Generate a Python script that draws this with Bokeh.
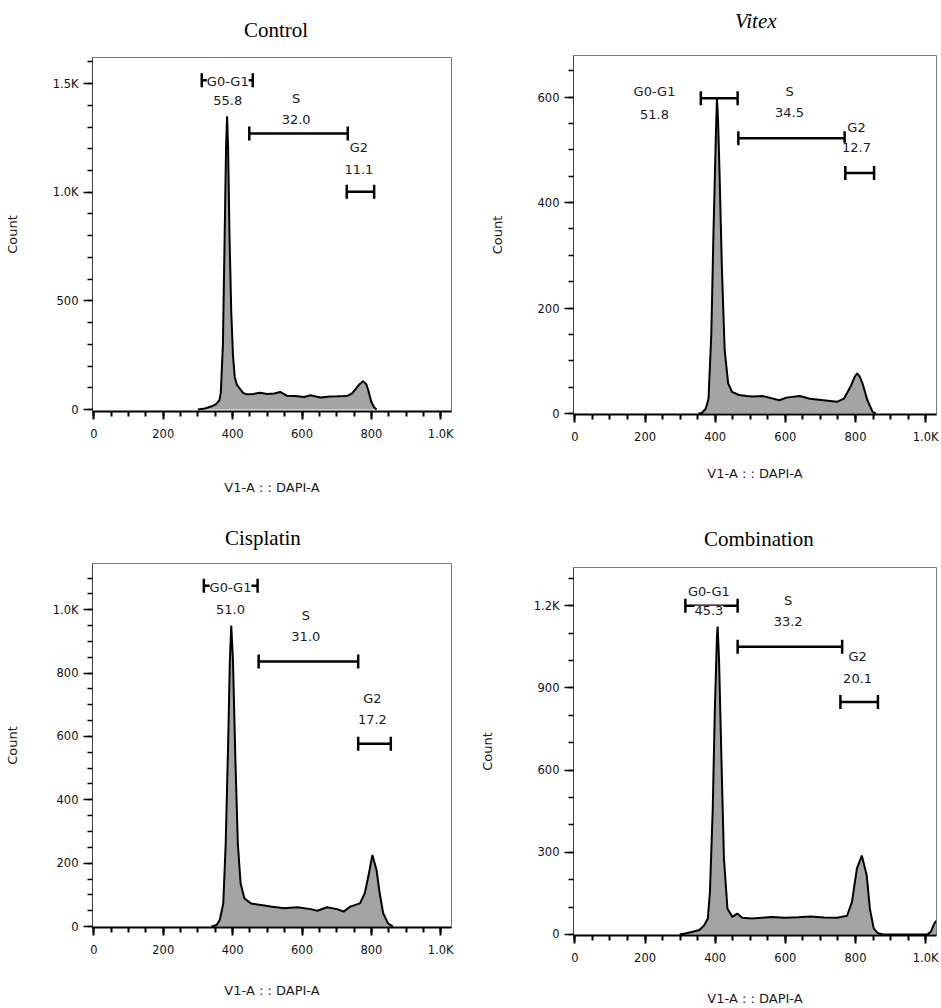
import numpy as np
from bokeh.plotting import figure
from bokeh.models import FixedTicker, ColumnDataSource, LabelSet, Range1d, Title
from bokeh.layouts import row, column
from bokeh.core.properties import value
from bokeh.embed import file_html
from bokeh.resources import INLINE

# ---------------- data ----------------
panel_titles = ["Control", "Vitex", "Cisplatin", "Combination"]
x_label = "V1-A : : DAPI-A"
y_label = "Count"
gate_names = ["G0-G1", "S", "G2"]

# DAPI-A histograms
ctrl_x = [300, 320, 340, 352, 362, 366, 372, 377, 381, 384, 387, 391, 396, 401, 406, 412,
          430, 440, 460, 479, 500, 520, 537, 556, 580, 606, 625, 640, 654, 680, 703, 720,
          732, 745, 752, 765, 776, 785, 791, 800, 808, 815]
ctrl_y = [0, 5, 15, 25, 43, 80, 300, 800, 1200, 1350, 1200, 800, 450, 250, 150, 115,
          77, 70, 72, 77, 72, 74, 81, 64, 62, 58, 66, 60, 55, 60, 61, 62,
          64, 75, 89, 115, 130, 118, 89, 35, 10, 0]

vit_x = [352, 362, 373, 381, 389, 395, 402, 405, 408, 412, 419, 427, 437, 448, 468, 490,
         506, 535, 554, 583, 603, 641, 670, 709, 747, 767, 786, 798, 805, 812, 820, 834,
         849, 858]
vit_y = [0, 1, 9, 28, 152, 341, 530, 597, 560, 467, 278, 120, 57, 41, 35, 33,
         32, 33, 30, 25, 30, 33, 28, 25, 22, 28, 51, 70, 76, 70, 57, 25,
         3, 0]

cis_x = [339, 354, 363, 373, 380, 387, 392, 396, 401, 408, 415, 423, 434, 453, 482, 510,
         548, 587, 625, 644, 672, 701, 720, 739, 767, 781, 791, 803, 815, 824, 834, 848,
         862]
cis_y = [0, 5, 21, 73, 262, 577, 839, 950, 839, 525, 262, 136, 89, 73, 68, 63,
         58, 61, 55, 50, 61, 55, 47, 63, 73, 105, 157, 226, 178, 105, 42, 10,
         0]

com_x = [299, 318, 336, 355, 369, 379, 385, 393, 399, 405, 407, 411, 419, 425, 435, 449,
         463, 477, 505, 533, 561, 598, 636, 673, 710, 748, 776, 790, 804, 818, 832, 841,
         852, 864, 879, 1005, 1015, 1025, 1030]
com_y = [0, 4, 10, 16, 34, 58, 155, 458, 821, 1087, 1124, 1003, 579, 276, 94, 64,
         76, 61, 58, 61, 64, 61, 63, 65, 62, 61, 68, 119, 240, 288, 216, 94,
         22, 4, 0, 0, 10, 40, 50]

# gates: percent, left/right bounds, height
ctrl_pct = ["55.8", "32.0", "11.1"]
ctrl_lo = [311, 448, 729]
ctrl_hi = [458, 732, 808]
ctrl_gy = [1515, 1270, 1002]

vit_pct = ["51.8", "34.5", "12.7"]
vit_lo = [359, 466, 771]
vit_hi = [464, 769, 853]
vit_gy = [598, 522, 456]

cis_pct = ["51.0", "31.0", "17.2"]
cis_lo = [317, 475, 762]
cis_hi = [472, 762, 856]
cis_gy = [1076, 837, 577]

com_pct = ["45.3", "33.2", "20.1"]
com_lo = [315, 464, 757]
com_hi = [464, 762, 864]
com_gy = [1200, 1051, 849]

# gate label anchors
ctrl_lab_x = [386, 583, 764]
ctrl_name_y = [1508, 1430, 1204]
ctrl_pct_y = [1422, 1336, 1106]
vit_lab_x = [227, 612, 803]
vit_name_y = [610, 610, 543]
vit_pct_y = [568, 570, 505]
cis_lab_x = [394, 611, 803]
cis_name_y = [1070, 981, 719]
cis_pct_y = [1001, 915, 653]
com_lab_x = [382, 608, 806]
com_name_y = [1254, 1220, 1015]
com_pct_y = [1184, 1142, 936]

# axes
x_ticks = [0, 200, 400, 600, 800, 1000]
x_tick_labels = ["0", "200", "400", "600", "800", "1.0K"]
ctrl_yticks = [0, 500, 1000, 1500]
ctrl_ylabels = ["0", "500", "1.0K", "1.5K"]
vit_yticks = [0, 200, 400, 600]
vit_ylabels = ["0", "200", "400", "600"]
cis_yticks = [0, 200, 400, 600, 800, 1000]
cis_ylabels = ["0", "200", "400", "600", "800", "1.0K"]
com_yticks = [0, 300, 600, 900, 1200]
com_ylabels = ["0", "300", "600", "900", "1.2K"]

FONT = "DejaVu Sans"


def make_panel(title, italic, t_off, t_standoff, spacer, w, h, borders, yr, yticks, ylabels,
               ystep, hx, hy, lo, hi, gy, pct, lab_x, name_y, pct_y, ylab_so, xlab_so):
    bl, br, bt, bb = borders
    p = figure(width=w, height=h, output_backend="svg", toolbar_location=None,
               x_range=Range1d(-4, 1031), y_range=Range1d(*yr),
               min_border_left=bl, min_border_right=br, min_border_top=bt,
               min_border_bottom=bb, title=title)
    if spacer:
        p.add_layout(Title(text=" ", text_font_size="14px", standoff=0), "above")
    p.title.text_font = "Liberation Serif"
    p.title.text_font_size = "21px"
    p.title.text_font_style = "italic" if italic else "normal"
    p.title.text_color = "black"
    p.title.align = "left"
    p.title.offset = t_off
    p.title.standoff = t_standoff
    p.xgrid.visible = False
    p.ygrid.visible = False
    p.outline_line_color = "#7a7a7a"
    p.outline_line_width = 1
    p.background_fill_color = "white"
    p.border_fill_color = "white"

    # histogram
    p.varea(x=hx, y1=[0] * len(hx), y2=hy, fill_color="#a4a4a4")
    p.line(hx, hy, line_color="black", line_width=2)

    # gates
    gsrc = ColumnDataSource(dict(lo=lo, hi=hi, y=gy))
    p.segment(x0="lo", y0="y", x1="hi", y1="y", line_color="black", line_width=2.5, source=gsrc)
    for key in ("lo", "hi"):
        p.scatter(x=key, y="y", marker="dash", angle=np.pi / 2, size=14,
                  line_color="black", line_width=2.5, source=gsrc)
    lsrc = ColumnDataSource(dict(x=lab_x, ny=name_y, py=pct_y, name=gate_names, pct=pct))
    for yk, tk in (("ny", "name"), ("py", "pct")):
        p.add_layout(LabelSet(x="x", y=yk, text=tk, source=lsrc, text_align="center",
                              text_baseline="middle", text_font=value(FONT),
                              text_font_size="13px", text_color="#1a1a1a",
                              background_fill_color="white"))

    # axes
    p.xaxis.ticker = FixedTicker(ticks=x_ticks, minor_ticks=list(range(0, 1051, 50)))
    p.xaxis.major_label_overrides = {t: s for t, s in zip(x_ticks, x_tick_labels)}
    top = yr[1]
    p.yaxis.ticker = FixedTicker(ticks=yticks, minor_ticks=list(np.arange(0, top, ystep)))
    p.yaxis.major_label_overrides = {t: s for t, s in zip(yticks, ylabels)}
    p.xaxis.axis_label = x_label
    p.yaxis.axis_label = y_label
    for ax in (p.xaxis[0], p.yaxis[0]):
        ax.major_label_text_font = FONT
        ax.major_label_text_font_size = "11.5px"
        ax.major_label_text_color = "#111111"
        ax.axis_label_text_font = FONT
        ax.axis_label_text_font_size = "13px"
        ax.axis_label_text_font_style = "normal"
        ax.axis_label_text_color = "#1a1a1a"
        ax.major_tick_in = 0
        ax.minor_tick_in = 0
        ax.major_tick_line_color = "black"
        ax.minor_tick_line_color = "black"
    xa, ya = p.xaxis[0], p.yaxis[0]
    xa.major_tick_out = 8
    xa.minor_tick_out = 5
    xa.major_tick_line_width = 2
    xa.minor_tick_line_width = 2
    xa.axis_line_width = 2
    xa.axis_line_color = "black"
    xa.major_label_standoff = 7
    xa.axis_label_standoff = xlab_so
    ya.major_tick_out = 9
    ya.minor_tick_out = 5
    ya.major_tick_line_width = 1.5
    ya.minor_tick_line_width = 1.5
    ya.axis_line_width = 1
    ya.axis_line_color = "#444444"
    ya.major_label_standoff = 5
    ya.axis_label_standoff = ylab_so
    return p


p1 = make_panel(panel_titles[0], False, 151.5, 31, False, 470, 505, (92, 19, 57, 94),
                (-9, 1620), ctrl_yticks, ctrl_ylabels, 100, ctrl_x, ctrl_y, ctrl_lo, ctrl_hi,
                ctrl_gy, ctrl_pct, ctrl_lab_x, ctrl_name_y, ctrl_pct_y, 30, 36)
p2 = make_panel(panel_titles[1], True, 161.5, 10, True, 471, 505, (103, 5, 55, 91),
                (-2, 679), vit_yticks, vit_ylabels, 50, vit_x, vit_y, vit_lo, vit_hi, vit_gy,
                vit_pct, vit_lab_x, vit_name_y, vit_pct_y, 30, 19)
p3 = make_panel(panel_titles[2], False, 132.5, 28, False, 470, 503, (92, 19, 58, 81),
                (-3, 1146), cis_yticks, cis_ylabels, 50, cis_x, cis_y, cis_lo, cis_hi, cis_gy,
                cis_pct, cis_lab_x, cis_name_y, cis_pct_y, 30, 23)
p4 = make_panel(panel_titles[3], False, 130.5, 33, False, 471, 503, (103, 5, 62, 71),
                (-4, 1340), com_yticks, com_ylabels, 100, com_x, com_y, com_lo, com_hi, com_gy,
                com_pct, com_lab_x, com_name_y, com_pct_y, 36, 23)

layout = row(column(p1, p3), column(p2, p4))
open("out.html", "w").write(file_html(layout, INLINE))
